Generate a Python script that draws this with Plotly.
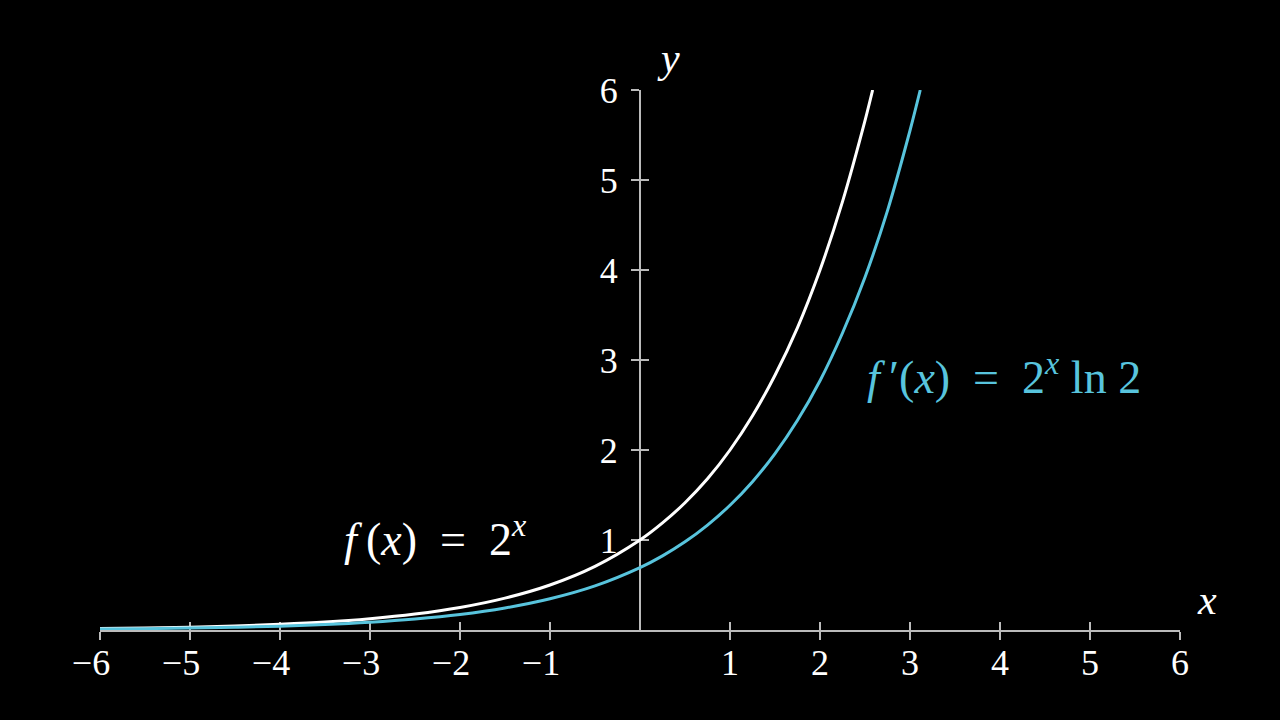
import plotly.graph_objects as go

# f(x) = 2^x
x_f = [-6, -5.5, -5, -4.5, -4, -3.5, -3, -2.5, -2, -1.5, -1, -0.5, 0, 0.25, 0.5, 0.75, 1,
       1.25, 1.5, 1.75, 2, 2.25, 2.5, 2.585]
y_f = [0.016, 0.022, 0.031, 0.044, 0.063, 0.088, 0.125, 0.177, 0.25, 0.354, 0.5, 0.707, 1.0,
       1.19, 1.414, 1.68, 2.0, 2.38, 2.83, 3.36, 4.0, 4.76, 5.66, 6.0]

# f'(x) = 2^x ln 2
x_d = [-6, -5.5, -5, -4.5, -4, -3.5, -3, -2.5, -2, -1.5, -1, -0.5, 0, 0.25, 0.5, 0.75, 1,
       1.25, 1.5, 1.75, 2, 2.25, 2.5, 2.75, 3, 3.114]
y_d = [0.011, 0.015, 0.022, 0.031, 0.043, 0.061, 0.087, 0.123, 0.173, 0.245, 0.347, 0.49, 0.693,
       0.824, 0.98, 1.166, 1.386, 1.648, 1.96, 2.33, 2.77, 3.30, 3.92, 4.66, 5.55, 6.0]

x_ticks = [-6, -5, -4, -3, -2, -1, 1, 2, 3, 4, 5, 6]
x_ticktext = ["−6\u00a0\u00a0", "−5\u00a0\u00a0", "−4\u00a0\u00a0", "−3\u00a0\u00a0",
              "−2\u00a0\u00a0", "−1\u00a0\u00a0", "1", "2", "3", "4", "5", "6"]
y_ticks = [1, 2, 3, 4, 5, 6]
y_ticktext = ["1", "2", "3", "4", "5", "6"]

X_RANGE = [-6, 6]
Y_RANGE = [0, 6]

WHITE = "#ffffff"
BLUE = "#58C4DD"
AXIS = "#bbbbbb"
FONT = "Liberation Serif"

fig = go.Figure()
fig.add_trace(go.Scatter(x=x_f, y=y_f, mode="lines", line=dict(color=WHITE, width=3, shape="spline"),
                         hoverinfo="skip", xaxis="x", yaxis="y"))
fig.add_trace(go.Scatter(x=x_d, y=y_d, mode="lines", line=dict(color=BLUE, width=3, shape="spline"),
                         hoverinfo="skip", xaxis="x2", yaxis="y2"))

common = dict(showgrid=False, zeroline=False, tickcolor=AXIS, tickwidth=2, ticklen=8,
              layer="below traces")

fig.update_layout(
    width=1280, height=720,
    margin=dict(l=100, r=100, t=90, b=90),
    paper_bgcolor="black", plot_bgcolor="black",
    showlegend=False,
    xaxis=dict(range=X_RANGE, showline=True, linecolor=AXIS, linewidth=2, ticks="outside",
               tickvals=x_ticks, ticktext=x_ticktext, ticklabelstandoff=-8,
               tickfont=dict(family=FONT, size=36, color=WHITE), anchor="y", **common),
    xaxis2=dict(range=X_RANGE, overlaying="x", anchor="y2", side="bottom", ticks="inside",
                tickvals=x_ticks, showticklabels=False, showline=False, **common),
    yaxis=dict(range=Y_RANGE, showline=True, linecolor=AXIS, linewidth=2, ticks="outside",
               tickvals=y_ticks, ticktext=y_ticktext, anchor="free", position=0.5,
               ticklabelstandoff=6,
               tickfont=dict(family=FONT, size=36, color=WHITE), **common),
    yaxis2=dict(range=Y_RANGE, overlaying="y", anchor="free", position=0.5, side="left",
                ticks="inside", tickvals=y_ticks, showticklabels=False, showline=False, **common),
)

fig.add_annotation(x=1.025, y=0.056, xref="paper", yref="paper", text="<i>x</i>", showarrow=False,
                   xanchor="center", yanchor="middle",
                   font=dict(family=FONT, size=42, color=WHITE))
fig.add_annotation(x=0.526, y=1.06, xref="paper", yref="paper", text="<i>y</i>", showarrow=False,
                   xanchor="center", yanchor="middle",
                   font=dict(family=FONT, size=42, color=WHITE))
fig.add_annotation(x=-2.27, y=1.05, xref="x", yref="y",
                   text="<i>f</i>\u2009(<i>x</i>)\u00a0\u00a0=\u00a0\u00a02<sup><i>x</i></sup>",
                   showarrow=False, font=dict(family=FONT, size=46, color=WHITE))
fig.add_annotation(x=4.04, y=2.84, xref="x", yref="y",
                   text="<i>f</i>\u2009′(<i>x</i>)\u00a0\u00a0=\u00a0\u00a02<sup><i>x</i></sup>\u00a0ln\u00a02",
                   showarrow=False, font=dict(family=FONT, size=46, color=BLUE))

fig.write_html("out.html", config={"displayModeBar": False},
               post_script="document.body.style.margin='0';document.body.style.background='black';")
